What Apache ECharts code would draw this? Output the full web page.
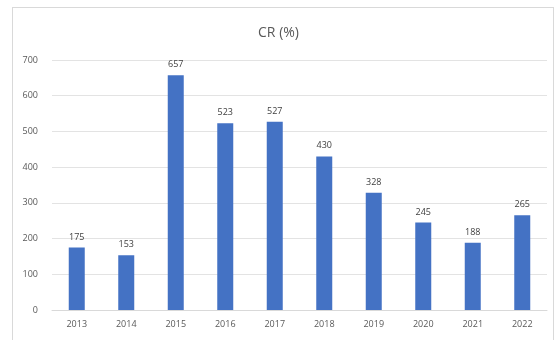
<!DOCTYPE html>
<html>
<head>
<meta charset="utf-8">
<script src="https://cdn.jsdelivr.net/npm/echarts@6/dist/echarts.min.js"></script>
<style>
  html, body { margin: 0; padding: 0; background: #fff; }
  #frame { position: absolute; left: 12px; top: 7px; width: 542px; height: 340px; border: 1px solid #d9d9d9; box-sizing: border-box; }
  #chart { width: 557px; height: 340px; position: absolute; left: 0; top: 0; }
</style>
</head>
<body>
<div id="frame"></div>
<div id="chart"></div>
<script>
const years = ['2013', '2014', '2015', '2016', '2017', '2018', '2019', '2020', '2021', '2022'];
const crValues = [175, 153, 657, 523, 527, 430, 328, 245, 188, 265];
const yTicks = [0, 100, 200, 300, 400, 500, 600, 700];

const chart = echarts.init(document.getElementById('chart'), null, { renderer: 'canvas' });
chart.setOption({
  animation: false,
  title: {
    text: 'CR (%)',
    left: 'center',
    top: 21,
    textStyle: { fontFamily: 'Open Sans', fontSize: 14, fontWeight: 'normal', color: '#595959' }
  },
  grid: { left: 52, right: 10, top: 60, bottom: 30, containLabel: false },
  xAxis: {
    type: 'category',
    data: years,
    axisLine: { lineStyle: { color: '#d9d9d9' } },
    axisTick: { show: false },
    axisLabel: { fontFamily: 'Open Sans', fontSize: 9, color: '#595959', margin: 10 }
  },
  yAxis: {
    type: 'value',
    min: yTicks[0],
    max: yTicks[yTicks.length - 1],
    interval: 100,
    axisLine: { show: false },
    axisTick: { show: false },
    axisLabel: { fontFamily: 'Open Sans', fontSize: 9, color: '#595959', margin: 14 },
    splitLine: { lineStyle: { color: '#e3e3e3' } }
  },
  series: [{
    type: 'bar',
    data: crValues,
    barWidth: 16,
    itemStyle: { color: '#4472C4' },
    label: {
      show: true,
      position: 'top',
      distance: 6,
      fontFamily: 'Open Sans',
      fontSize: 9,
      color: '#404040'
    }
  }]
});
</script>
</body>
</html>
